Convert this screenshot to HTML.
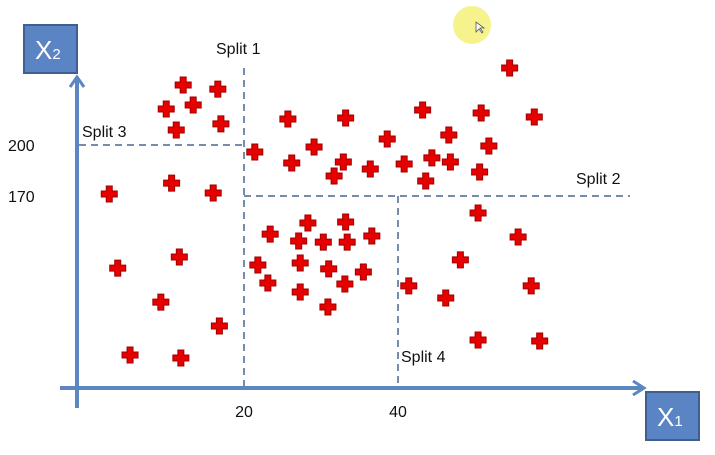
<!DOCTYPE html>
<html><head><meta charset="utf-8"><style>
body{margin:0;background:#fff;width:715px;height:450px;overflow:hidden}
svg text{font-family:"Liberation Sans",sans-serif}
</style></head><body>
<svg id="chart" width="715" height="450" viewBox="0 0 715 450">
<circle cx="472" cy="25" r="19" fill="#f6f38c"/>
<path d="M476 22 L476 32 L479 29 L482 33 L483 32 L480 28 L484 28 Z" fill="#fff" stroke="#555" stroke-width="0.8"/>
<g id="splits"></g>
<g id="points"></g>
<g>
<line x1="77" y1="408" x2="77" y2="77" stroke="#5b86c1" stroke-width="4"/>
<polyline points="70,87 77,77 84,87" fill="none" stroke="#5b86c1" stroke-width="3"/>
</g>
<g>
<line x1="60" y1="388" x2="643" y2="388" stroke="#5b86c1" stroke-width="4"/>
<polyline points="633,381 644,388 633,395" fill="none" stroke="#5b86c1" stroke-width="3"/>
</g>
<g>
<rect x="24" y="25" width="53" height="48" fill="#5b84c4" stroke="#3f5f91" stroke-width="2"/>
<text x="35" y="59" font-size="26" fill="#fff">X<tspan font-size="15">2</tspan></text>
</g>
<g>
<rect x="646" y="392" width="53" height="48" fill="#5b84c4" stroke="#3f5f91" stroke-width="2"/>
<text x="657" y="426" font-size="26" fill="#fff">X<tspan font-size="15">1</tspan></text>
</g>
<g id="ticks"></g>
</svg>
<script>
const xs=[12.1,16.6,9.9,13.4,17.0,11.2,10.6,16.0,2.5,3.6,11.6,9.2,16.8,5.2,11.8,21.4,25.7,26.2,29.1,33.2,32.9,31.7,36.4,38.6,40.8,43.2,44.4,43.6,46.6,46.8,50.8,51.8,50.6,54.5,57.7,28.3,23.4,27.1,30.3,33.2,33.4,36.6,21.8,27.3,31.0,23.1,33.1,35.5,27.3,30.9,50.4,55.6,48.1,41.4,46.2,57.3,50.4,58.4];
const ys=[235.3,232.9,221.2,223.5,212.4,208.8,177.6,171.8,171.2,127.6,134.1,107.6,93.5,76.5,74.7,195.9,215.3,189.4,198.8,215.9,190,181.8,185.9,203.5,188.8,220.6,192.4,178.8,205.9,190,218.8,199.4,184.1,245.3,216.5,154.1,147.6,143.5,142.9,154.7,142.9,146.5,129.4,130.6,127.1,118.8,118.2,125.3,113.5,104.7,160,145.9,132.4,117.1,110,117.1,85.3,84.7];
const xTicks=[20,40];
const yTicks=[200,170];
const splitLabels=["Split 1","Split 2","Split 3","Split 4"];
const X=v=>90+v*7.7, Y=v=>145+(200-v)*1.7;
const NS="http://www.w3.org/2000/svg";
function mk(t,a,p){const e=document.createElementNS(NS,t);for(const k in a)e.setAttribute(k,a[k]);p.appendChild(e);return e;}
const sp=document.getElementById('splits');
const dash={stroke:"#4a6591","stroke-width":1.5,"stroke-dasharray":"7,5"};
let l;
l=mk('line',Object.assign({x1:X(20),y1:68,x2:X(20),y2:386},dash),sp);


l=mk('line',Object.assign({x1:X(20),y1:Y(170),x2:630,y2:Y(170)},dash),sp);


l=mk('line',Object.assign({x1:79,y1:Y(200),x2:X(20),y2:Y(200)},dash),sp);


l=mk('line',Object.assign({x1:X(40),y1:Y(170),x2:X(40),y2:386},dash),sp);


const lp=[[216,54],[576,184],[82,137],[401,362]];
splitLabels.forEach((s,i)=>{const t=mk('text',{x:lp[i][0],y:lp[i][1],"font-size":16,fill:"#111"},sp);t.textContent=s;

});
const tk=document.getElementById('ticks');
xTicks.forEach(v=>{const t=mk('text',{x:X(v),y:417,"font-size":16,fill:"#111","text-anchor":"middle"},tk);t.textContent=v;

});
yTicks.forEach(v=>{const t=mk('text',{x:8,y:Y(v)+6,"font-size":16,fill:"#111"},tk);t.textContent=v;

});
const pg=document.getElementById('points');
xs.forEach((v,i)=>{const cx=X(v),cy=Y(ys[i]);
const d=`M${cx-3} ${cy-8}h6v5h5v6h-5v5h-6v-5h-5v-6h5z`;
const p=mk('path',{d:d,fill:"#e60000",stroke:"#a00000","stroke-width":1},pg);

});
</script>
</body></html>
